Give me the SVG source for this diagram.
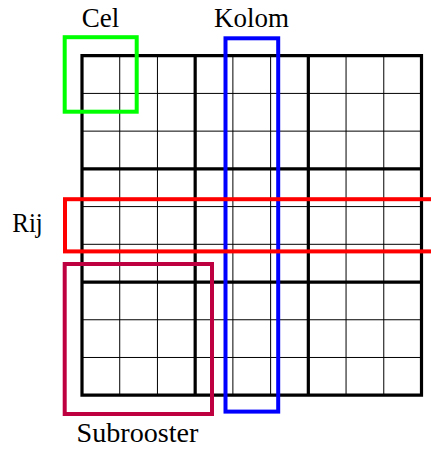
<svg xmlns="http://www.w3.org/2000/svg" width="431" height="449" viewBox="0 0 431 449">
<style>
.thin{stroke:#000;stroke-width:1;fill:none}
.thick{stroke:#000;stroke-width:3.2;fill:none;stroke-linecap:square}
.box{fill:none;stroke-width:4}
.lbl{font-family:"Liberation Serif","DejaVu Serif",serif;font-size:26.5px;fill:#000;text-anchor:middle}
</style>
<rect width="431" height="449" fill="#fff"/>
<g id="grid">
<path class="thin" d="M119.72,55.7V395.2M157.44,55.7V395.2M232.89,55.7V395.2M270.61,55.7V395.2M346.06,55.7V395.2M383.78,55.7V395.2M82,93.42H421.5M82,131.14H421.5M82,206.59H421.5M82,244.31H421.5M82,319.76H421.5M82,357.48H421.5"/>
<path class="thick" d="M82,55.7V395.2M195.17,55.7V395.2M308.33,55.7V395.2M421.5,55.7V395.2M82,55.7H421.5M82,168.87H421.5M82,282.03H421.5M82,395.2H421.5"/>
</g>
<g id="cel">
<rect class="box" x="64.7" y="37.2" width="72" height="74.5" stroke="#00FF00"/>
<text class="lbl" x="100.5" y="26.7" textLength="37.5" lengthAdjust="spacingAndGlyphs">Cel</text>
</g>
<g id="subrooster">
<rect class="box" x="64.7" y="264" width="147.3" height="150" stroke="#BF0040"/>
<text class="lbl" x="137.5" y="441.7" textLength="122" lengthAdjust="spacingAndGlyphs">Subrooster</text>
</g>
<g id="kolom">
<rect class="box" x="225.5" y="38.3" width="52.7" height="373.3" stroke="#0000FF"/>
<text class="lbl" x="251.5" y="26.7" textLength="75" lengthAdjust="spacingAndGlyphs">Kolom</text>
</g>
<g id="rij">
<rect class="box" x="65" y="199.2" width="380" height="52.2" stroke="#FF0000"/>
<text class="lbl" x="27.5" y="231.7" textLength="30.5" lengthAdjust="spacingAndGlyphs">Rij</text>
</g>
<g id="connectors"></g>
</svg>
